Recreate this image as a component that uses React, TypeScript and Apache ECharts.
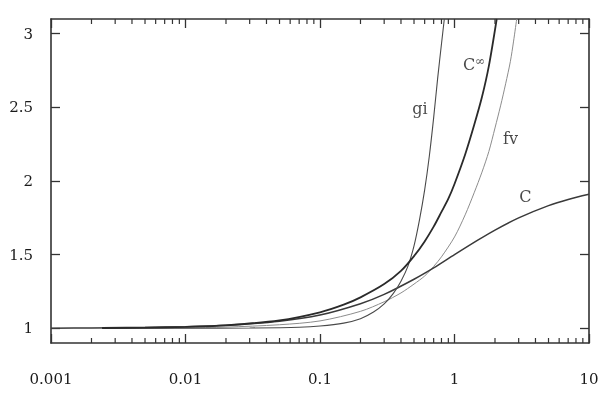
import React, { useEffect, useRef } from "react";
import * as echarts from "echarts";

// ---- data ----
const xTickLabels = ["0.001", "0.01", "0.1", "1", "10"];
const yTickValues = [1, 1.5, 2, 2.5, 3];

const cX = [0.001, 0.002, 0.005, 0.01, 0.02, 0.05, 0.1, 0.2, 0.3, 0.5, 0.7, 1, 1.5, 2, 3, 5, 7, 10];
const cY = [1.001, 1.002, 1.005, 1.01, 1.02, 1.048, 1.09, 1.167, 1.23, 1.333, 1.41, 1.5, 1.6, 1.667, 1.75, 1.833, 1.875, 1.91];

const cInfX = [0.0024, 0.005, 0.01, 0.02, 0.05, 0.1, 0.15, 0.2, 0.3, 0.4, 0.5, 0.6, 0.7, 0.8, 0.9, 1, 1.2, 1.4, 1.6, 1.8, 2.06];
const cInfY = [1.002, 1.005, 1.01, 1.02, 1.053, 1.108, 1.16, 1.21, 1.3, 1.39, 1.49, 1.59, 1.69, 1.79, 1.88, 1.98, 2.18, 2.38, 2.57, 2.78, 3.1];

const fvX = [0.0024, 0.005, 0.01, 0.02, 0.05, 0.1, 0.2, 0.3, 0.4, 0.5, 0.6, 0.7, 0.8, 1, 1.2, 1.4, 1.6, 1.8, 2, 2.2, 2.4, 2.6, 2.75, 2.9];
const fvY = [1.0, 1.001, 1.003, 1.008, 1.024, 1.05, 1.115, 1.18, 1.24, 1.3, 1.355, 1.42, 1.485, 1.62, 1.77, 1.92, 2.06, 2.2, 2.36, 2.51, 2.66, 2.81, 2.95, 3.1];

const giX = [0.0024, 0.01, 0.03, 0.07, 0.1, 0.15, 0.2, 0.25, 0.3, 0.35, 0.4, 0.45, 0.5, 0.55, 0.6, 0.65, 0.7, 0.75, 0.8, 0.84];
const giY = [1.0, 1.0, 1.002, 1.007, 1.015, 1.035, 1.065, 1.11, 1.165, 1.235, 1.32, 1.42, 1.56, 1.74, 1.94, 2.17, 2.43, 2.7, 2.93, 3.1];

const labelNames = ["gi", "C∞", "fv", "C"];
const labelX = [0.554, 1.396, 2.61, 3.37];
const labelY = [2.495, 2.797, 2.287, 1.892];

const decades = [0.001, 0.01, 0.1, 1];
const minorTicks: number[] = [];
for (const d of decades) {
  for (let k = 2; k <= 9; k++) minorTicks.push(+(d * k).toPrecision(3));
}

const FONT = "DejaVu Serif";
const AX = "#333";
const Y_MIN = 0.9;
const Y_MAX = 3.1;

function pairs(xs: number[], ys: number[]) {
  return xs.map((x, i) => [x, ys[i]]);
}

export default function App() {
  const ref = useRef<HTMLDivElement>(null);
  useEffect(() => {
    const chart = echarts.init(ref.current!, undefined, { renderer: "svg" });
    const axisLineStyle = { color: AX, width: 1.6 };
    const tickStyle = { color: AX, width: 1.3 };
    const lineSeries = (name: string, data: number[][], color: string, width: number, z: number) => ({
      type: "line",
      name,
      data,
      showSymbol: false,
      symbol: "none",
      smooth: 0.3,
      lineStyle: { color, width },
      z,
      silent: true,
    });
    chart.setOption({
      animation: false,
      grid: { left: 51, right: 16, top: 19, bottom: 65 },
      xAxis: [
        {
          type: "log",
          logBase: 10,
          min: 0.001,
          max: 10,
          position: "bottom",
          axisLine: { show: true, onZero: false, lineStyle: axisLineStyle },
          axisTick: { show: true, inside: true, length: 9, lineStyle: tickStyle },
          axisLabel: {
            show: true,
            margin: 28,
            fontFamily: FONT,
            fontSize: 15,
            color: "#1a1a1a",
            formatter: (v: number) => {
              const i = Math.round(Math.log10(v)) + 3;
              return xTickLabels[i] ?? "";
            },
          },
          splitLine: { show: false },
        },
        {
          type: "log",
          logBase: 10,
          min: 0.001,
          max: 10,
          position: "top",
          axisLine: { show: true, onZero: false, lineStyle: axisLineStyle },
          axisTick: { show: true, inside: true, length: 9, lineStyle: tickStyle },
          axisLabel: { show: false },
          splitLine: { show: false },
        },
      ],
      yAxis: [
        {
          type: "value",
          min: Y_MIN,
          max: Y_MAX,
          position: "left",
          axisLine: { show: true, onZero: false, lineStyle: axisLineStyle },
          axisTick: { show: true, inside: true, length: 9, lineStyle: tickStyle, customValues: yTickValues },
          axisLabel: {
            show: true,
            customValues: yTickValues,
            margin: 18,
            fontFamily: FONT,
            fontSize: 15,
            color: "#1a1a1a",
          },
          splitLine: { show: false },
        },
        {
          type: "value",
          min: Y_MIN,
          max: Y_MAX,
          position: "right",
          axisLine: { show: true, onZero: false, lineStyle: axisLineStyle },
          axisTick: { show: true, inside: true, length: 9, lineStyle: tickStyle, customValues: yTickValues },
          axisLabel: { show: false, customValues: yTickValues },
          splitLine: { show: false },
        },
      ],
      series: [
        lineSeries("C", pairs(cX, cY), "#3a3a3a", 1.5, 3),
        lineSeries("fv", pairs(fvX, fvY), "#8c8c8c", 1, 2),
        lineSeries("gi", pairs(giX, giY), "#4a4a4a", 1.1, 3),
        lineSeries("C∞", pairs(cInfX, cInfY), "#2a2a2a", 1.8, 4),
        {
          type: "scatter",
          silent: true,
          symbolSize: 0,
          data: labelNames.map((n, i) => ({ name: n, value: [labelX[i], labelY[i]] })),
          label: {
            show: true,
            position: "inside",
            fontFamily: FONT,
            fontSize: 16,
            color: "#1a1a1a",
            formatter: (p: any) => (p.name === "C∞" ? "{c|C}{s|∞}" : p.name),
            rich: {
              c: { fontFamily: FONT, fontSize: 16, color: "#1a1a1a", lineHeight: 18, verticalAlign: "bottom" },
              s: { fontFamily: FONT, fontSize: 12, color: "#1a1a1a", lineHeight: 18, verticalAlign: "top", padding: [0, 0, 6, 0] },
            },
          },
          z: 6,
        },
      ],
    });

    // minor ticks of the log axes, placed through the chart's own scale
    const st = { stroke: AX, lineWidth: 1.2 };
    const elements: any[] = [];
    for (const v of minorTicks) {
      const b = chart.convertToPixel({ xAxisIndex: 0, yAxisIndex: 0 }, [v, Y_MIN]) as number[];
      const t = chart.convertToPixel({ xAxisIndex: 0, yAxisIndex: 0 }, [v, Y_MAX]) as number[];
      elements.push({ type: "line", silent: true, z: 10, shape: { x1: b[0], y1: b[1], x2: b[0], y2: b[1] - 5 }, style: st });
      elements.push({ type: "line", silent: true, z: 10, shape: { x1: t[0], y1: t[1], x2: t[0], y2: t[1] + 5 }, style: st });
    }
    chart.setOption({ graphic: { elements } });

    return () => chart.dispose();
  }, []);
  return <div ref={ref} style={{ position: "fixed", left: 0, top: 0, width: 605, height: 408 }} />;
}
